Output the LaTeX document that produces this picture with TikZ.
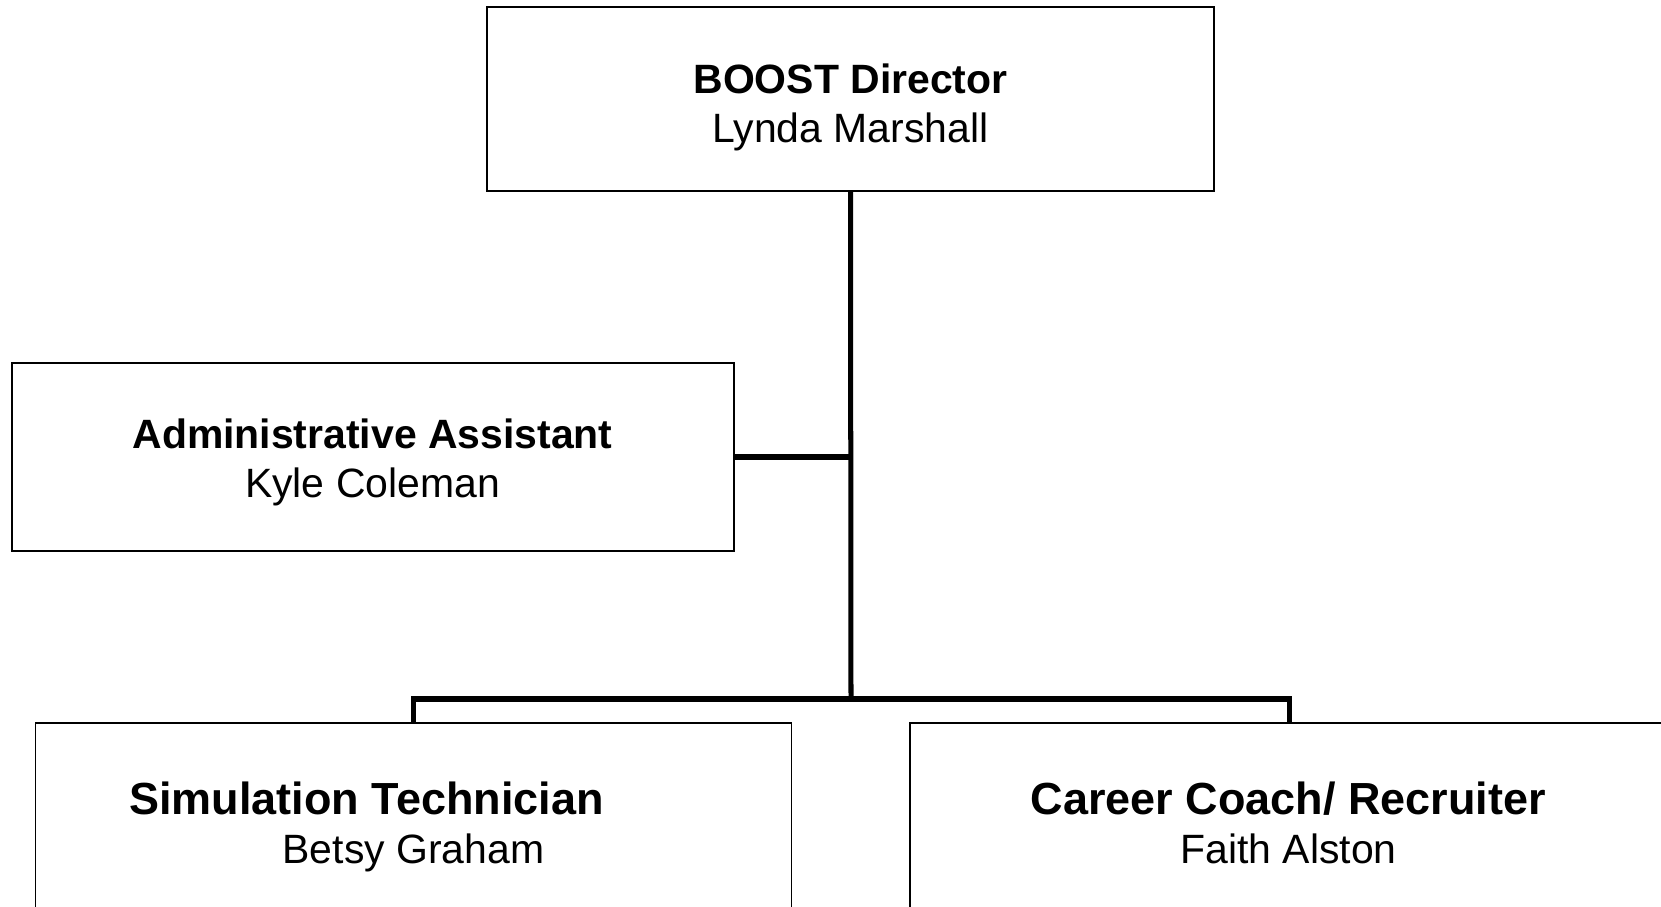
\documentclass[tikz,border=0pt]{standalone}
\usepackage{fontspec}
\setmainfont{Liberation Sans}
\usetikzlibrary{positioning}
\newcommand{\roletext}{\fontsize{23.3}{28}\selectfont}
\newcommand{\bigrole}{\fontsize{25.6}{30}\selectfont}

\begin{document}
\begin{tikzpicture}[
    box/.style={draw, line width=0.85pt, inner sep=0pt},
    link/.style={line width=2.85pt}
  ]
    \useasboundingbox (0,0) rectangle (33.22,-18.14);

    % Boxes
    \node[box, minimum width=14.54cm, minimum height=3.68cm] (boss) at (17.01,-1.98) {};
    \node[box, minimum width=14.44cm, minimum height=3.76cm] (admin) at (7.46,-9.14) {};
    \node[box, minimum width=15.12cm, minimum height=5cm] (sim) at (8.27,-16.96) {};
    \node[box, minimum width=15.16cm, minimum height=5cm] (coach) at (25.78,-16.96) {};

    % Texts
    \node[anchor=base] (bosst) at (17.01,-1.88) {\roletext\bfseries BOOST Director};
    \node[anchor=base] (bossn) at (17.01,-2.86) {\roletext Lynda Marshall};
    \node[anchor=base] (admint) at (7.45,-8.98) {\roletext\bfseries Administrative Assistant};
    \node[anchor=base] (adminn) at (7.45,-9.96) {\roletext Kyle Coleman};
    \node[anchor=base] (simt) at (7.33,-16.28) {\bigrole\bfseries Simulation Technician};
    \node[anchor=base] (simn) at (8.27,-17.27) {\roletext Betsy Graham};
    \node[anchor=base] (coacht) at (25.77,-16.28) {\bigrole\bfseries Career Coach/ Recruiter};
    \node[anchor=base] (coachn) at (25.77,-17.27) {\roletext Faith Alston};

    % Lines
    \coordinate (split) at (17.02,-13.98);
    \draw[link] (boss.south) -- (split);
    \draw[link] (admin.east) -- (admin.east -| split);
    \draw[link] (sim.north) |- (split) -| (coach.north);
\end{tikzpicture}
\end{document}
